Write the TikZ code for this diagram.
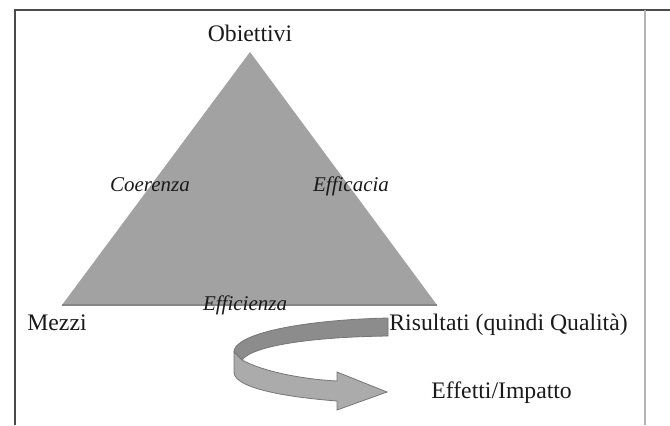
\documentclass[tikz,border=0pt]{standalone}
\usepackage{fontspec}
\setmainfont{Liberation Serif}
\usetikzlibrary{positioning}
\definecolor{ink}{HTML}{1A1A1A}
\definecolor{frameink}{HTML}{4A4A4A}
\definecolor{framegray}{HTML}{B4B4B4}
\definecolor{trifill}{HTML}{A2A2A2}
\definecolor{triedge}{HTML}{858585}
\definecolor{bandtop}{HTML}{8C8C8C}
\definecolor{bandlow}{HTML}{ABABAB}
\definecolor{bandedge}{HTML}{767676}
\tikzset{
  vertexlabel/.style={font=\fontsize{11.85}{14}\selectfont,text=ink,
                      inner sep=0pt},
  sidelabel/.style={font=\fontsize{10.5}{12}\selectfont\itshape,text=ink,
                    inner sep=0pt},
  frameline/.style={draw=frameink,line width=1pt},
  sideline/.style={draw=framegray,line width=1pt},
  topband/.style={fill=bandtop,draw=bandedge,line width=0.4pt},
  lowband/.style={fill=bandlow,draw=bandedge,line width=0.4pt}
}

\begin{document}
\begin{tikzpicture}[x=0.5pt,y=-0.5pt]
    \path[use as bounding box] (0,0) rectangle (670,425);
    \draw[frameline] (15,425) -- (15,10) -- (670,10);
    \draw[sideline] (645,10) -- (645,425);

    % triangle
    \coordinate (apex) at (250,52);
    \coordinate (lbase) at (62,305);
    \coordinate (rbase) at (437,305);
    \fill[trifill] (apex) -- (lbase) -- (rbase) -- cycle;
    \draw[triedge,line width=0.6pt] (lbase) -- (rbase);

    \node[vertexlabel,anchor=base] (obiettivi) at (250,41) {Obiettivi};
    \node[sidelabel,anchor=base] (coerenza) at (150,191) {Coerenza};
    \node[sidelabel,anchor=base] (efficacia) at (351,191) {Efficacia};
    \node[sidelabel,anchor=base] (efficienza) at (245,310) {Efficienza};
    \node[vertexlabel,anchor=base west] (mezzi) at (27,330) {Mezzi};
    \node[vertexlabel,anchor=base west] (risultati) at (389,330)
      {Risultati (quindi Qualità)};
    \node[vertexlabel,anchor=base west] (effetti) at (431,398)
      {Effetti/Impatto};

    % curved arrow
    \path[topband] (388,318) .. controls (300,320) and (234,334) .. (234,352)
      -- (242,360) .. controls (252,346) and (310,337) .. (388,336) -- cycle;
    \path[lowband] (234,352) -- (242,360)
      .. controls (262,371) and (300,379) .. (337,381)
      -- (337,372) -- (387,392) -- (337,410) -- (337,401)
      .. controls (285,397) and (234,388) .. (234,372) -- cycle;
\end{tikzpicture}
\end{document}
